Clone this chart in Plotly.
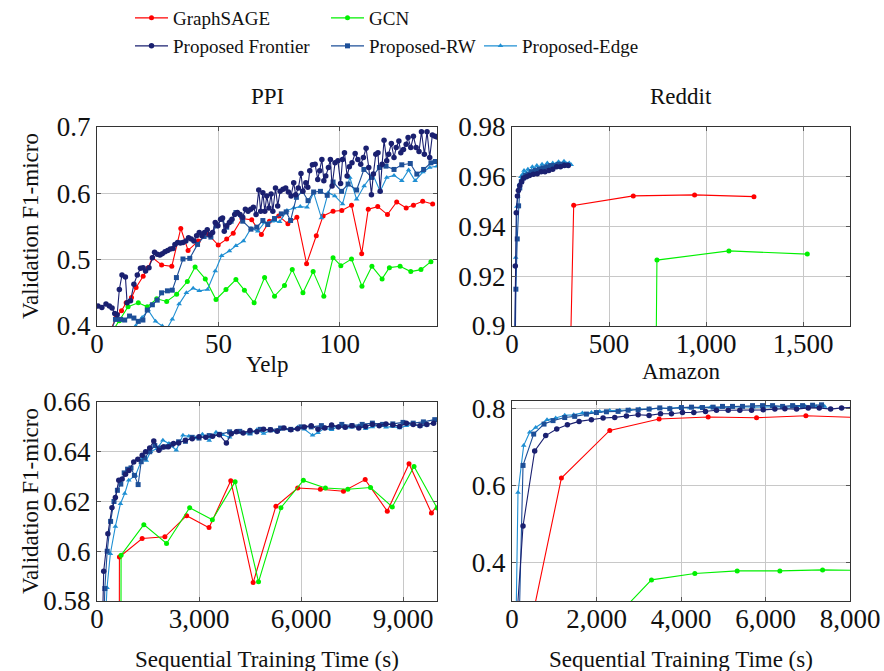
import plotly.graph_objects as go

# ---------------- data ----------------
# PPI (x: epochs)
ppi_frontier_x = [0.4, 2, 3.7, 5.1, 6.2, 7.3, 8.3, 9.2, 10.3, 11.7, 12.4, 13.8, 15.2, 16.6, 17.9, 19.0, 20, 21.4, 22.8, 23.7,
                  24.8, 25.9, 26.9, 28, 29.1, 30.2, 31.3, 32.1, 33.2, 34.3, 35.4, 36.6, 37.7, 38.8, 39.9, 41, 42.1, 43.2, 44.3, 45.4,
                  46.5, 47.6, 48.7, 49.8, 50.9, 51.7, 52.4, 53.4, 54.5, 55.6, 56.7, 57.8, 58.9, 60, 61.1, 62.2, 63.3, 64.4, 65.5, 66.6,
                  67.4, 68.3, 69.1, 69.9, 70.8, 71.7, 72.4, 73.5, 74.4, 75.4, 76.6, 77.7, 78.8, 79.9, 81, 81.8, 82.9, 84, 84.8, 86,
                  86.8, 87.6, 88.7, 89.8, 90.9, 91.7, 92.6, 93.4, 94.2, 95.3, 96.1, 96.8, 98, 99.2, 100.3, 101.1, 101.9, 103, 103.9, 105,
                  106.3, 107.4, 108.6, 109.7, 110.8, 111.9, 113, 113.8, 114.8, 115.7, 116.6, 117.4, 118.2, 119.3, 120.1, 121.2, 122.3, 123.2, 124.3, 125.1,
                  126.2, 127.3, 128.1, 129.2, 130.3, 131.4, 132.6, 133.6, 134.8, 135.9, 137, 138.1, 139.2, 140]
ppi_frontier_y = [0.430, 0.428, 0.433, 0.430, 0.427, 0.419, 0.417, 0.455, 0.477, 0.474, 0.435, 0.438, 0.463, 0.477, 0.487, 0.488, 0.483, 0.488, 0.503, 0.511,
                  0.508, 0.507, 0.509, 0.512, 0.514, 0.516, 0.517, 0.523, 0.526, 0.525, 0.526, 0.528, 0.533, 0.531, 0.528, 0.536, 0.541, 0.536, 0.541, 0.545,
                  0.537, 0.541, 0.556, 0.551, 0.561, 0.563, 0.543, 0.551, 0.556, 0.561, 0.568, 0.571, 0.568, 0.564, 0.576, 0.573, 0.576, 0.579, 0.568, 0.605,
                  0.573, 0.601, 0.573, 0.596, 0.578, 0.599, 0.573, 0.608, 0.581, 0.603, 0.606, 0.608, 0.602, 0.596, 0.616, 0.598, 0.608, 0.630, 0.603, 0.616,
                  0.609, 0.634, 0.643, 0.644, 0.621, 0.634, 0.651, 0.619, 0.626, 0.639, 0.651, 0.611, 0.646, 0.649, 0.615, 0.651, 0.661, 0.626, 0.640, 0.646,
                  0.660, 0.651, 0.644, 0.654, 0.668, 0.639, 0.598, 0.629, 0.659, 0.661, 0.603, 0.644, 0.680, 0.649, 0.659, 0.675, 0.654, 0.669, 0.679, 0.661,
                  0.666, 0.674, 0.684, 0.669, 0.686, 0.669, 0.663, 0.693, 0.659, 0.693, 0.654, 0.688, 0.686, 0.685]
ppi_rw_x = [5, 7.6, 9.7, 11.4, 13.4, 15.2, 17, 18.9, 20.7, 22.8, 24.8, 26.6, 29, 31, 32.7, 35.4, 38.2, 41.4, 44.1, 46.9,
            49, 51.4, 53.4, 55.2, 57.2, 60, 63.4, 65.8, 68.3, 70.3, 73.1, 75.9, 77.9, 79.7, 82.1, 84.6, 86.9, 89.2, 92, 94.8,
            97.2, 100.7, 103.4, 106.9, 109.9, 113.1, 116.3, 119, 122.3, 125.5, 129, 131.7, 134.5, 137.5, 139.3]
ppi_rw_y = [0.385, 0.410, 0.410, 0.409, 0.415, 0.412, 0.407, 0.409, 0.424, 0.432, 0.439, 0.450, 0.453, 0.454, 0.473, 0.501, 0.502, 0.523, 0.535, 0.534,
            0.551, 0.561, 0.549, 0.558, 0.571, 0.558, 0.546, 0.549, 0.559, 0.553, 0.562, 0.569, 0.572, 0.559, 0.594, 0.603, 0.589, 0.602, 0.603, 0.597,
            0.617, 0.603, 0.614, 0.605, 0.636, 0.624, 0.639, 0.641, 0.636, 0.643, 0.645, 0.629, 0.636, 0.646, 0.648]
ppi_edge_x = [13, 15.9, 18.6, 21.1, 24.1, 26.9, 28.5, 31, 33.8, 36.8, 39.6, 42.1, 45.5, 48.7, 51.3, 54.5, 57.2, 60.3, 63.4, 66.2,
              69, 72.1, 75.2, 78.2, 81, 83.7, 86.5, 89.2, 92.4, 95.2, 97.9, 101.1, 104.1, 106.9, 110, 113.5, 116.6, 119.3, 122.3, 125.5,
              128.3, 131, 134.2, 137, 140]
ppi_edge_y = [0.385, 0.400, 0.413, 0.424, 0.407, 0.400, 0.394, 0.410, 0.433, 0.450, 0.457, 0.453, 0.455, 0.483, 0.506, 0.513, 0.521, 0.528, 0.547, 0.543,
              0.556, 0.558, 0.557, 0.574, 0.578, 0.580, 0.579, 0.601, 0.563, 0.601, 0.596, 0.584, 0.624, 0.591, 0.611, 0.629, 0.603, 0.624, 0.627, 0.619,
              0.635, 0.619, 0.632, 0.639, 0.641]
ppi_sage_x = [4, 7.9, 10.1, 12, 14.2, 16.1, 19, 21.1, 22.8, 26.6, 30.8, 34.5, 37.5, 41.7, 45.8, 49.9, 53.4, 56.1, 59.7, 63.7,
              67.7, 71, 74.8, 78.6, 82.3, 86.3, 90.3, 93.1, 97.2, 100.8, 104.8, 109, 111.7, 115.6, 119.6, 123.4, 127.3, 130.3, 134.1, 138.2]
ppi_sage_y = [0.380, 0.413, 0.423, 0.435, 0.443, 0.458, 0.475, 0.488, 0.503, 0.492, 0.490, 0.547, 0.514, 0.528, 0.538, 0.522, 0.531, 0.540, 0.562, 0.560,
              0.538, 0.558, 0.566, 0.554, 0.564, 0.494, 0.536, 0.566, 0.573, 0.574, 0.582, 0.509, 0.576, 0.580, 0.568, 0.587, 0.578, 0.582, 0.588, 0.584]
ppi_gcn_x = [6, 9.2, 12.8, 17, 20.7, 24.6, 28.7, 32.8, 37.2, 40.4, 44.6, 49, 53.1, 57.2, 60.7, 64.7, 69, 73.1, 77.2, 80.4,
             84.8, 89, 93.4, 97.2, 100.4, 104.8, 109.1, 113.2, 117.4, 120.4, 124.8, 129.2, 133.4, 137.5]
ppi_gcn_y = [0.390, 0.408, 0.429, 0.435, 0.429, 0.441, 0.437, 0.448, 0.467, 0.489, 0.471, 0.440, 0.455, 0.470, 0.454, 0.435, 0.473, 0.445, 0.461, 0.485,
             0.450, 0.482, 0.445, 0.503, 0.491, 0.501, 0.460, 0.490, 0.471, 0.488, 0.490, 0.482, 0.485, 0.497]

# Reddit (x: seconds)
reddit_frontier_x = [12, 17, 22, 28, 33, 40, 50, 60, 75, 90, 110, 130, 150, 170, 190, 210, 230, 250, 270, 290]
reddit_frontier_y = [0.880, 0.9241, 0.9455, 0.9523, 0.9545, 0.9565, 0.9580, 0.9595, 0.9600, 0.9605, 0.9610, 0.9612, 0.9620, 0.9620, 0.9625, 0.9630,
                     0.9640, 0.9640, 0.9645, 0.9645]
reddit_rw_x = [15, 20, 27, 34, 40, 48, 58, 70, 85, 100, 120, 140, 160, 180, 200, 220, 240, 260, 280]
reddit_rw_y = [0.880, 0.9148, 0.9350, 0.9483, 0.9555, 0.9580, 0.9595, 0.9605, 0.9610, 0.9620, 0.9625, 0.9630, 0.9635, 0.9640, 0.9645, 0.9645, 0.9650,
               0.9650, 0.9648]
reddit_edge_x = [12, 19, 25, 30, 38, 46, 55, 62, 72, 82, 92, 105, 115, 128, 140, 155, 168, 182, 195, 210, 225, 240, 255, 268, 282, 295, 305]
reddit_edge_y = [0.880, 0.9275, 0.9480, 0.9520, 0.9570, 0.9600, 0.9610, 0.9625, 0.9615, 0.9630, 0.9620, 0.9640, 0.9630, 0.9645, 0.9635, 0.9650, 0.9640,
                 0.9655, 0.9645, 0.9655, 0.9650, 0.9660, 0.9650, 0.9662, 0.9652, 0.9655, 0.9648]
reddit_sage_x = [290, 318, 625, 941, 1247]
reddit_sage_y = [0.850, 0.9485, 0.9523, 0.9527, 0.9520]
reddit_gcn_x = [738, 747, 1118, 1522]
reddit_gcn_y = [0.850, 0.9265, 0.9302, 0.9289]

# Yelp (x: seconds)
yelp_frontier_x = [160, 197, 320, 440, 540, 640, 740, 840, 940, 1080, 1200, 1330, 1430, 1550, 1670, 1820, 1950, 2100, 2250, 2400,
                   2600, 2800, 3000, 3200, 3400, 3600, 3806, 3950, 4100, 4300, 4500, 4700, 4900, 5100, 5300, 5500, 5700, 5900, 6100, 6300,
                   6500, 6700, 6900, 7100, 7300, 7500, 7700, 7900, 8100, 8300, 8500, 8700, 8900, 9100, 9300, 9500, 9700, 9900]
yelp_frontier_y = [0.570, 0.592, 0.607, 0.6175, 0.6216, 0.6285, 0.629, 0.631, 0.6325, 0.6359, 0.637, 0.6386, 0.640, 0.6415, 0.6443, 0.6406, 0.6419, 0.642, 0.6433, 0.6435,
                   0.6446, 0.6452, 0.646, 0.6458, 0.6462, 0.6468, 0.6435, 0.6472, 0.648, 0.6475, 0.6485, 0.648, 0.649, 0.6488, 0.6482, 0.6495, 0.6488, 0.6492, 0.650, 0.6505,
                   0.649, 0.6495, 0.6508, 0.650, 0.6498, 0.6505, 0.6495, 0.6502, 0.651, 0.6505, 0.6512, 0.6508, 0.6502, 0.6515, 0.651, 0.6505, 0.651, 0.6515]
yelp_rw_x = [200, 230, 300, 400, 500, 600, 700, 800, 900, 1000, 1100, 1210, 1300, 1400, 1550, 1700, 1850, 2000, 2200, 2400,
             2600, 2800, 3000, 3300, 3600, 3900, 4200, 4500, 4800, 5100, 5400, 5700, 6000, 6300, 6600, 6900, 7200, 7500, 7800, 8100,
             8400, 8700, 9000, 9300, 9600, 9934]
yelp_rw_y = [0.570, 0.585, 0.600, 0.612, 0.620, 0.6245, 0.627, 0.6315, 0.633, 0.6335, 0.6305, 0.6268, 0.636, 0.6375, 0.640, 0.6425, 0.6415, 0.642, 0.6428, 0.644,
             0.6442, 0.6458, 0.6455, 0.6465, 0.647, 0.648, 0.6482, 0.6478, 0.649, 0.6488, 0.6495, 0.649, 0.650, 0.650, 0.6505, 0.6498, 0.651, 0.6505, 0.651, 0.6515,
             0.651, 0.6512, 0.6518, 0.6515, 0.652, 0.6529]
yelp_edge_x = [240, 295, 393, 541, 689, 816, 934, 1131, 1328, 1450, 1574, 1771, 1938, 2115, 2331, 2528, 2700, 2900, 3100, 3300,
               3500, 3700, 3900, 4100, 4300, 4500, 4700, 4900, 5100, 5300, 5500, 5700, 5900, 6100, 6340, 6500, 6700, 6900, 7100, 7300,
               7500, 7700, 7900, 8100, 8300, 8500, 8700, 8900, 9100, 9300, 9500, 9700]
yelp_edge_y = [0.570, 0.5853, 0.599, 0.610, 0.6191, 0.6232, 0.6285, 0.6305, 0.6372, 0.6365, 0.640, 0.6413, 0.6446, 0.6433, 0.6406, 0.6466, 0.6462, 0.6455, 0.647, 0.6445,
               0.6478, 0.6468, 0.6458, 0.6482, 0.6475, 0.647, 0.6488, 0.6473, 0.6485, 0.648, 0.6492, 0.6485, 0.6498, 0.649, 0.6466, 0.6476, 0.6495, 0.6488, 0.6502, 0.6495,
               0.6498, 0.6505, 0.6492, 0.650, 0.6508, 0.6498, 0.6502, 0.6495, 0.6505, 0.651, 0.6502, 0.6508]
yelp_sage_x = [650, 659, 1328, 1997, 2636, 3295, 3934, 4593, 5262, 5902, 6570, 7249, 7888, 8538, 9177, 9836, 10400]
yelp_sage_y = [0.500, 0.5977, 0.6051, 0.6058, 0.6143, 0.6095, 0.6283, 0.5874, 0.6181, 0.6254, 0.6249, 0.6241, 0.6288, 0.6161, 0.6352, 0.6154, 0.6250]
yelp_gcn_x = [700, 708, 1377, 2046, 2725, 3393, 4062, 4751, 5410, 6069, 6718, 7377, 8046, 8685, 9325, 10003]
yelp_gcn_y = [0.500, 0.5984, 0.6107, 0.6031, 0.6175, 0.6127, 0.6279, 0.5877, 0.6175, 0.6285, 0.6254, 0.6249, 0.6256, 0.6178, 0.6341, 0.6174]

# Amazon (x: seconds)
amazon_frontier_x = [80, 261, 537, 798, 1059, 1311, 1588, 1879, 2156, 2432, 2708, 2985, 3245, 3514, 3774, 4035, 4303, 4580, 4840, 5117,
                     5393, 5670, 5946, 6222, 6459, 6735, 7011, 7272, 7541, 7801, 8060]
amazon_frontier_y = [0.20, 0.495, 0.690, 0.730, 0.747, 0.758, 0.767, 0.771, 0.7757, 0.7774, 0.7809, 0.7844, 0.7826, 0.787, 0.787, 0.790, 0.790, 0.793, 0.796, 0.796,
                     0.796, 0.796, 0.797, 0.799, 0.800, 0.799, 0.802, 0.802, 0.799, 0.802, 0.803]
amazon_rw_x = [160, 261, 513, 758, 971, 1248, 1484, 1761, 1998, 2235, 2511, 2748, 2985, 3245, 3498, 3735, 4011, 4248, 4509, 4761,
               4982, 5219, 5456, 5693, 5930, 6167, 6404, 6641, 6877, 7114, 7327]
amazon_rw_y = [0.20, 0.6525, 0.734, 0.760, 0.769, 0.777, 0.780, 0.786, 0.790, 0.792, 0.793, 0.796, 0.797, 0.799, 0.802, 0.800, 0.803, 0.804, 0.803, 0.804,
               0.806, 0.806, 0.806, 0.808, 0.808, 0.808, 0.806, 0.808, 0.808, 0.809, 0.810]
amazon_edge_x = [89, 142, 276, 419, 561, 829, 1034, 1248, 1461, 1666, 1879, 2077, 2314, 2550, 2787, 3024, 3261, 3498, 3735, 3972,
                 4209, 4450, 4700, 4950, 5200, 5450, 5700, 5950, 6200, 6450, 6700, 6950, 7200, 7400]
amazon_edge_y = [0.20, 0.582, 0.704, 0.739, 0.751, 0.771, 0.776, 0.783, 0.784, 0.789, 0.790, 0.793, 0.795, 0.796, 0.797, 0.799, 0.800, 0.800, 0.802, 0.803,
                 0.802, 0.803, 0.804, 0.803, 0.804, 0.805, 0.804, 0.805, 0.805, 0.804, 0.805, 0.806, 0.805, 0.806]
amazon_sage_x = [370, 1169, 2314, 3482, 4643, 5788, 6956, 8100]
amazon_sage_y = [0.20, 0.6195, 0.7436, 0.7731, 0.7783, 0.7766, 0.7818, 0.7775]
amazon_gcn_x = [2300, 3301, 4327, 5330, 6340, 7351, 8100]
amazon_gcn_y = [0.24, 0.3549, 0.3714, 0.3783, 0.3783, 0.3809, 0.3800]

# tick labels
ppi_xticks = [0, 50, 100]
ppi_yticks = [0.4, 0.5, 0.6, 0.7]
ppi_yticktext = ["0.4", "0.5", "0.6", "0.7"]
reddit_xticks = [0, 500, 1000, 1500]
reddit_yticks = [0.90, 0.92, 0.94, 0.96, 0.98]
reddit_yticktext = ["0.9", "0.92", "0.94", "0.96", "0.98"]
yelp_xticks = [0, 3000, 6000, 9000]
yelp_yticks = [0.58, 0.60, 0.62, 0.64, 0.66]
yelp_yticktext = ["0.58", "0.6", "0.62", "0.64", "0.66"]
amazon_xticks = [0, 2000, 4000, 6000, 8000]
amazon_yticks = [0.4, 0.6, 0.8]
amazon_yticktext = ["0.4", "0.6", "0.8"]

methods = ["GraphSAGE", "GCN", "Proposed Frontier", "Proposed-RW", "Proposed-Edge"]
# ---------------- style ----------------
FONT = '"Liberation Serif", "Times New Roman", serif'
styles = {
    "GraphSAGE": dict(color="#ff0000", symbol="circle", size=5, legend="legend"),
    "GCN": dict(color="#00f000", symbol="circle", size=5, legend="legend2"),
    "Proposed Frontier": dict(color="#1a2070", symbol="circle", size=5.5, legend="legend3"),
    "Proposed-RW": dict(color="#1d4f98", symbol="square", size=5, legend="legend4"),
    "Proposed-Edge": dict(color="#1f8fd3", symbol="triangle-up", size=5, legend="legend5"),
}

panels = [
    ("x", "y", {"GraphSAGE": (ppi_sage_x, ppi_sage_y), "GCN": (ppi_gcn_x, ppi_gcn_y),
                "Proposed Frontier": (ppi_frontier_x, ppi_frontier_y), "Proposed-RW": (ppi_rw_x, ppi_rw_y),
                "Proposed-Edge": (ppi_edge_x, ppi_edge_y)}),
    ("x2", "y2", {"GraphSAGE": (reddit_sage_x, reddit_sage_y), "GCN": (reddit_gcn_x, reddit_gcn_y),
                  "Proposed Frontier": (reddit_frontier_x, reddit_frontier_y), "Proposed-RW": (reddit_rw_x, reddit_rw_y),
                  "Proposed-Edge": (reddit_edge_x, reddit_edge_y)}),
    ("x3", "y3", {"GraphSAGE": (yelp_sage_x, yelp_sage_y), "GCN": (yelp_gcn_x, yelp_gcn_y),
                  "Proposed Frontier": (yelp_frontier_x, yelp_frontier_y), "Proposed-RW": (yelp_rw_x, yelp_rw_y),
                  "Proposed-Edge": (yelp_edge_x, yelp_edge_y)}),
    ("x4", "y4", {"GraphSAGE": (amazon_sage_x, amazon_sage_y), "GCN": (amazon_gcn_x, amazon_gcn_y),
                  "Proposed Frontier": (amazon_frontier_x, amazon_frontier_y), "Proposed-RW": (amazon_rw_x, amazon_rw_y),
                  "Proposed-Edge": (amazon_edge_x, amazon_edge_y)}),
]

fig = go.Figure()
draw_order = ["GraphSAGE", "GCN", "Proposed-Edge", "Proposed-RW", "Proposed Frontier"]
for i, (xa, ya, series) in enumerate(panels):
    for m in draw_order:
        sx, sy = series[m]
        st = styles[m]
        fig.add_trace(go.Scatter(
            x=sx, y=sy, xaxis=xa, yaxis=ya, name=m, mode="lines+markers",
            line=dict(color=st["color"], width=1.1),
            marker=dict(color=st["color"], symbol=st["symbol"], size=st["size"], line=dict(width=0)),
            showlegend=(i == 0), legend=st["legend"], cliponaxis=True,
        ))

W, H = 884, 671
ML, MR, MT, MB = 97, 34, 127, 70
PW, PH = W - ML - MR, H - MT - MB


def fx(px):
    return (px - ML) / PW


def fy(py):
    return (H - MB - py) / PH


axis_common = dict(showgrid=True, gridcolor="#c8c8c8", gridwidth=1, zeroline=False,
                   showline=True, linecolor="#333333", linewidth=1, mirror="ticks",
                   ticks="inside", ticklen=4, tickcolor="#555555", automargin=False,
                   tickfont=dict(family=FONT, size=27, color="#111111"), fixedrange=True)
xcommon = dict(ticklabelstandoff=-6, **axis_common)

fig.update_layout(
    template="plotly_white",
    width=W, height=H, margin=dict(l=ML, r=MR, t=MT, b=MB, autoexpand=False),
    paper_bgcolor="white", plot_bgcolor="white",
    font=dict(family=FONT, color="#111111"),
    separators=".,",
    xaxis=dict(domain=[0, fx(437)], range=[0, 140], tickvals=ppi_xticks, anchor="y", **xcommon),
    yaxis=dict(domain=[fy(326), 1], range=[0.4, 0.7], tickvals=ppi_yticks, ticktext=ppi_yticktext, anchor="x", **axis_common),
    xaxis2=dict(domain=[fx(512), 1], range=[0, 1742], tickvals=reddit_xticks, tickformat=",", anchor="y2", **xcommon),
    yaxis2=dict(domain=[fy(326), 1], range=[0.9, 0.98], tickvals=reddit_yticks, ticktext=reddit_yticktext, anchor="x2", **axis_common),
    xaxis3=dict(domain=[0, fx(437)], range=[0, 10000], tickvals=yelp_xticks, tickformat=",", anchor="y3", **xcommon),
    yaxis3=dict(domain=[0, fy(402)], range=[0.58, 0.66], tickvals=yelp_yticks, ticktext=yelp_yticktext, anchor="x3", **axis_common),
    xaxis4=dict(domain=[fx(512), 1], range=[0, 8000], tickvals=amazon_xticks, tickformat=",", anchor="y4", **xcommon),
    yaxis4=dict(domain=[0, fy(401)], range=[0.3, 0.82], tickvals=amazon_yticks, ticktext=amazon_yticktext, anchor="x4", **axis_common),
    showlegend=True,
)

leg_common = dict(orientation="h", xanchor="left", yanchor="middle", bgcolor="rgba(0,0,0,0)",
                  xref="container", yref="container",
                  font=dict(family=FONT, size=19, color="#111111"), itemwidth=33)
fig.update_layout(
    legend=dict(x=130 / W, y=1 - 18 / H, **leg_common),
    legend2=dict(x=326 / W, y=1 - 18 / H, **leg_common),
    legend3=dict(x=130 / W, y=1 - 46 / H, **leg_common),
    legend4=dict(x=326 / W, y=1 - 46 / H, **leg_common),
    legend5=dict(x=479 / W, y=1 - 46 / H, **leg_common),
)

ann = [
    ("PPI", 267, 96, 0), ("Reddit", 681, 96, 0), ("Yelp", 267, 364, 0), ("Amazon", 681, 371, 0),
    ("Sequential Training Time (s)", 267, 659, 0), ("Sequential Training Time (s)", 681, 659, 0),
    ("Validation F1-micro", 30, 226, -90), ("Validation F1-micro", 30, 501, -90),
]
for text, px, py, rot in ann:
    fig.add_annotation(text=text, x=fx(px), y=fy(py), xref="paper", yref="paper",
                       xanchor="center", yanchor="middle", showarrow=False, textangle=rot,
                       font=dict(family=FONT, size=23, color="#111111"))

fig.write_html("out.html")
